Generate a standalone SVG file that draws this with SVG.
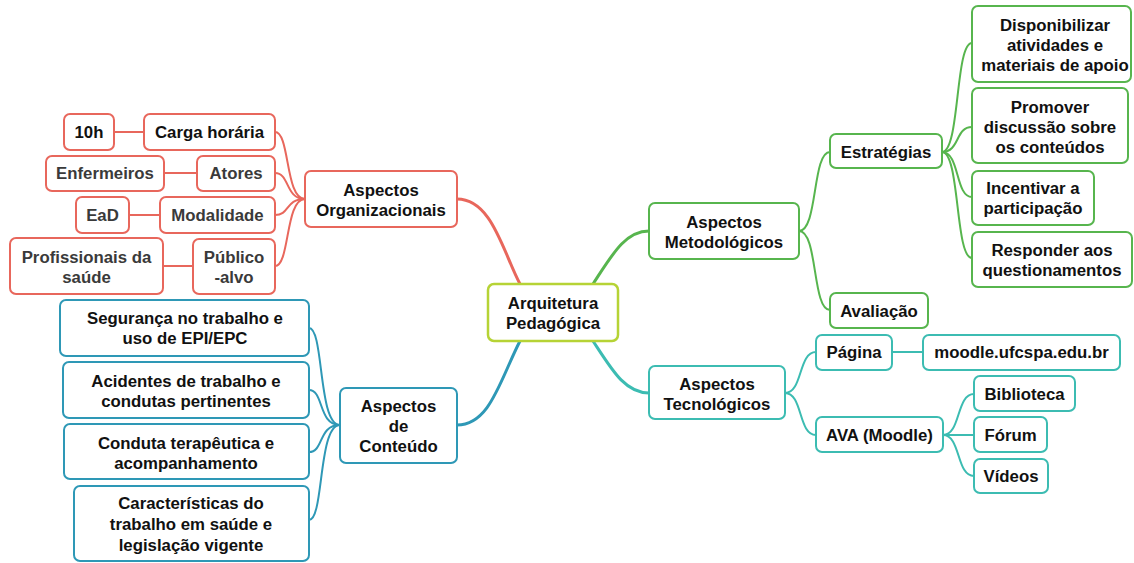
<svg xmlns="http://www.w3.org/2000/svg" width="1134" height="563" viewBox="0 0 1134 563">
<style>
rect{fill:#fff;stroke-width:2}
text{font-family:"Liberation Sans",Arial,sans-serif;font-weight:bold;font-size:16.8px;fill:#111;text-anchor:middle}
.g text,text.g{fill:#3a3a3a}
.red rect,rect.red{stroke:#e8675c}
.grn rect,rect.grn{stroke:#57b54e}
.blu rect,rect.blu{stroke:#2e98b6}
.tea rect,rect.tea{stroke:#3cbcb2}
path{fill:none;stroke-width:2}
.m{stroke-width:3}
.cr{stroke:#e8675c}.cg{stroke:#57b54e}.cb{stroke:#2e98b6}.ct{stroke:#3cbcb2}
</style>
<g id="connectors">
<path class="cr m" d="M457 199 C492 199 503 252 520 284"/>
<path class="cg m" d="M593 284 C612 255 625 231 649 231"/>
<path class="cb m" d="M520 341 C500 380 490 425 457 425"/>
<path class="ct m" d="M593 341 C612 370 625 393 649 393"/>
<path class="cr" d="M305 199 C285 199 290 132 275 132"/>
<path class="cr" d="M305 199 C285 199 290 173 275 173"/>
<path class="cr" d="M305 199 C285 199 290 215 275 215"/>
<path class="cr" d="M305 199 C285 199 290 266 275 266"/>
<path class="cr" d="M114 132 H144 M164 173 H197 M129 215 H160 M163 266 H193"/>
<path class="cb" d="M340 425 C318 425 324 328 309 328"/>
<path class="cb" d="M340 425 C318 425 324 390 309 390"/>
<path class="cb" d="M340 425 C318 425 324 452 309 452"/>
<path class="cb" d="M340 425 C318 425 324 520 309 520"/>
<path class="cg" d="M799 231 C818 231 812 152 830 152"/>
<path class="cg" d="M799 231 C818 231 812 310 830 310"/>
<path class="cg" d="M942 152 C960 152 955 43 972 43"/>
<path class="cg" d="M942 152 C960 152 955 127 972 127"/>
<path class="cg" d="M942 152 C960 152 955 197 972 197"/>
<path class="cg" d="M942 152 C960 152 955 258 972 258"/>
<path class="ct" d="M785 393 C803 393 798 352 816 352"/>
<path class="ct" d="M785 393 C803 393 798 435 816 435"/>
<path class="ct" d="M892 352 H923"/>
<path class="ct" d="M943 435 C961 435 956 394 974 394"/>
<path class="ct" d="M943 435 H974"/>
<path class="ct" d="M943 435 C961 435 956 476 974 476"/>
</g>
<g id="center"><rect x="488" y="284" width="130" height="57" rx="6" style="stroke:#b6d335;stroke-width:2.5"/><text x="553" y="309">Arquitetura</text><text x="553" y="329">Pedagógica</text></g>
<g id="org" class="red"><rect x="305" y="171" width="152" height="56" rx="6"/><text x="381" y="196">Aspectos</text><text x="381" y="216">Organizacionais</text></g>
<g id="carga" class="red"><rect x="144" y="114" width="131" height="36" rx="6"/><text x="209.5" y="138">Carga horária</text></g>
<g id="h10" class="red"><rect x="64" y="114" width="50" height="36" rx="6"/><text x="89" y="138">10h</text></g>
<g id="atores" class="red g"><rect x="197" y="156" width="78" height="35" rx="6"/><text x="236" y="179">Atores</text></g>
<g id="enf" class="red g"><rect x="46" y="156" width="118" height="35" rx="6"/><text x="105" y="179">Enfermeiros</text></g>
<g id="modal" class="red g"><rect x="160" y="197" width="115" height="36" rx="6"/><text x="217.5" y="221">Modalidade</text></g>
<g id="ead" class="red g"><rect x="76" y="197" width="53" height="36" rx="6"/><text x="102.5" y="221">EaD</text></g>
<g id="publico" class="red g"><rect x="193" y="239" width="82" height="55" rx="6"/><text x="234" y="263">Público</text><text x="234" y="283">-alvo</text></g>
<g id="prof" class="red g"><rect x="10" y="238" width="153" height="56" rx="6"/><text x="86.5" y="263">Profissionais da</text><text x="86.5" y="283">saúde</text></g>
<g id="conteudo" class="blu"><rect x="340" y="388" width="117" height="75" rx="6"/><text x="398.5" y="412">Aspectos</text><text x="398.5" y="432">de</text><text x="398.5" y="452">Conteúdo</text></g>
<g id="seg" class="blu"><rect x="60" y="300" width="249" height="56" rx="6"/><text x="185" y="324">Segurança no trabalho e</text><text x="185" y="344">uso de EPI/EPC</text></g>
<g id="acid" class="blu"><rect x="63" y="362" width="246" height="56" rx="6"/><text x="186" y="387">Acidentes de trabalho e</text><text x="186" y="407">condutas pertinentes</text></g>
<g id="cond" class="blu"><rect x="64" y="424" width="245" height="55" rx="6"/><text x="186" y="449">Conduta terapêutica e</text><text x="186" y="469">acompanhamento</text></g>
<g id="carac" class="blu"><rect x="74" y="486" width="235" height="75" rx="6"/><text x="191" y="509">Características do</text><text x="191" y="530">trabalho em saúde e</text><text x="191" y="551">legislação vigente</text></g>
<g id="metod" class="grn"><rect x="649" y="203" width="150" height="56" rx="6"/><text x="724" y="228">Aspectos</text><text x="724" y="248">Metodológicos</text></g>
<g id="estr" class="grn"><rect x="830" y="134" width="112" height="34" rx="6"/><text x="886" y="158">Estratégias</text></g>
<g id="aval" class="grn"><rect x="830" y="293" width="98" height="35" rx="6"/><text x="879" y="317">Avaliação</text></g>
<g id="disp" class="grn"><rect x="972" y="6" width="159" height="76" rx="6"/><text x="1055" y="31">Disponibilizar</text><text x="1055" y="51">atividades e</text><text x="1055" y="71">materiais de apoio</text></g>
<g id="prom" class="grn"><rect x="972" y="88" width="156" height="75" rx="6"/><text x="1050" y="113">Promover</text><text x="1050" y="133">discussão sobre</text><text x="1050" y="153">os conteúdos</text></g>
<g id="inc" class="grn"><rect x="972" y="171" width="122" height="54" rx="6"/><text x="1033" y="194">Incentivar a</text><text x="1033" y="214">participação</text></g>
<g id="resp" class="grn"><rect x="972" y="232" width="160" height="55" rx="6"/><text x="1052" y="256">Responder aos</text><text x="1052" y="276">questionamentos</text></g>
<g id="tecn" class="tea"><rect x="649" y="366" width="136" height="53" rx="6"/><text x="717" y="390">Aspectos</text><text x="717" y="410">Tecnológicos</text></g>
<g id="pag" class="tea"><rect x="816" y="335" width="76" height="35" rx="6"/><text x="854" y="358">Página</text></g>
<g id="moodle" class="tea"><rect x="923" y="335" width="197" height="35" rx="6"/><text x="1021.5" y="358">moodle.ufcspa.edu.br</text></g>
<g id="ava" class="tea"><rect x="816" y="417" width="127" height="35" rx="6"/><text x="879.5" y="441">AVA (Moodle)</text></g>
<g id="bib" class="tea"><rect x="974" y="376" width="101" height="35" rx="6"/><text x="1024.5" y="400">Biblioteca</text></g>
<g id="forum" class="tea"><rect x="974" y="417" width="73" height="35" rx="6"/><text x="1010.5" y="441">Fórum</text></g>
<g id="videos" class="tea"><rect x="974" y="459" width="74" height="34" rx="6"/><text x="1011" y="482">Vídeos</text></g>
</svg>
